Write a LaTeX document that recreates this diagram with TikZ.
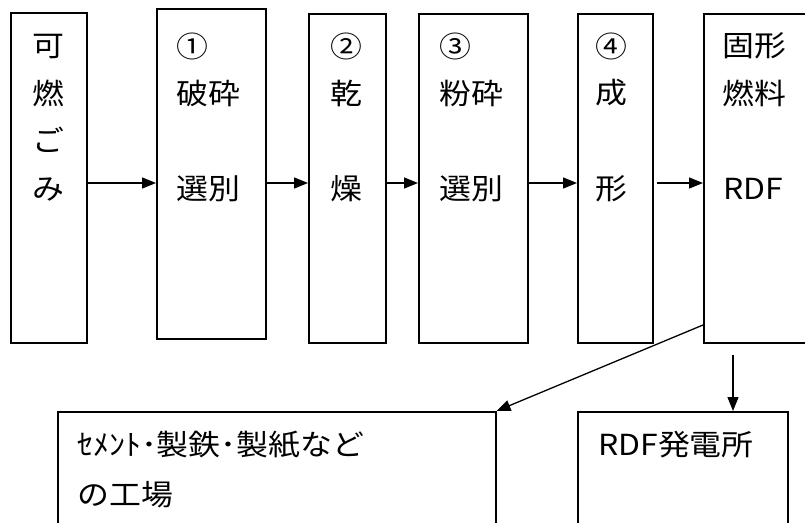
\documentclass[tikz,border=0pt]{standalone}
\usepackage{fontspec}
\newfontfamily\jp[FakeStretch=1.1]{Noto Sans CJK JP}
\usetikzlibrary{arrows.meta}
\begin{document}
\begin{tikzpicture}[x=1pt,y=-1pt,
  box/.style={draw, line width=1.5pt, inner sep=0pt, anchor=north west},
  lbl/.style={anchor=west, inner sep=0pt, font=\jp\fontsize{29pt}{34pt}\selectfont},
  arr/.style={line width=1.3pt, -{Triangle[length=14pt,width=11pt]}}]
\useasboundingbox (0,0) rectangle (805,522);
\clip (0,0) rectangle (805,522);
% boxes
\node[box, minimum width=76pt,  minimum height=330pt] (b1) at (10,12) {};
\node[box, minimum width=109pt, minimum height=330pt] (b2) at (156,8) {};
\node[box, minimum width=77pt,  minimum height=329pt] (b3) at (308,13) {};
\node[box, minimum width=109pt, minimum height=329pt] (b4) at (418,13) {};
\node[box, minimum width=75pt,  minimum height=329pt] (b5) at (577,13) {};
\node[box, minimum width=120pt, minimum height=329pt] (b6) at (703,13) {};
\node[box, minimum width=438pt, minimum height=150pt] (b7) at (57,411) {};
\node[box, minimum width=210pt, minimum height=150pt] (b8) at (577,411) {};
% texts
\node[lbl] (t1a) at (32,46) {可};
\node[lbl] (t1b) at (32,93) {燃};
\node[lbl] (t1c) at (32,140) {ご};
\node[lbl] (t1d) at (32,189) {み};
\node[lbl] (t2a) at (176,46) {①};
\node[lbl] (t2b) at (176,93) {破砕};
\node[lbl] (t2c) at (176,189) {選別};
\node[lbl] (t3a) at (330,46) {②};
\node[lbl] (t3b) at (330,93) {乾};
\node[lbl] (t3c) at (330,189) {燥};
\node[lbl] (t4a) at (439,46) {③};
\node[lbl] (t4b) at (439,93) {粉砕};
\node[lbl] (t4c) at (439,189) {選別};
\node[lbl] (t5a) at (595,46) {④};
\node[lbl] (t5b) at (595,93) {成};
\node[lbl] (t5c) at (595,189) {形};
\node[lbl] (t6a) at (722,46) {固形};
\node[lbl] (t6b) at (722,93) {燃料};
\node[lbl] (t6c) at (723,189) {RDF};
\node[lbl] (t7a) at (77,445) {ｾﾒﾝﾄ･製鉄･製紙など};
\node[lbl] (t7b) at (77,495) {の工場};
\node[lbl] (t8a) at (598,445) {RDF発電所};
% connectors
\coordinate (ay) at (0,183);
\draw[arr] (b1.east |- ay) -- (b2.west |- ay);
\draw[arr] (b2.east |- ay) -- (b3.west |- ay);
\draw[arr] (b3.east |- ay) -- (b4.west |- ay);
\draw[arr] (b4.east |- ay) -- (b5.west |- ay);
\draw[arr, shorten <=3pt] (b5.east |- ay) -- (b6.west |- ay);
\coordinate (dy) at (0,325);
\draw[arr] (b6.west |- dy) -- (b7.north east);
\coordinate (v0) at (733,355);
\draw[arr] (v0) -- (v0 |- b8.north);
\end{tikzpicture}
\end{document}
